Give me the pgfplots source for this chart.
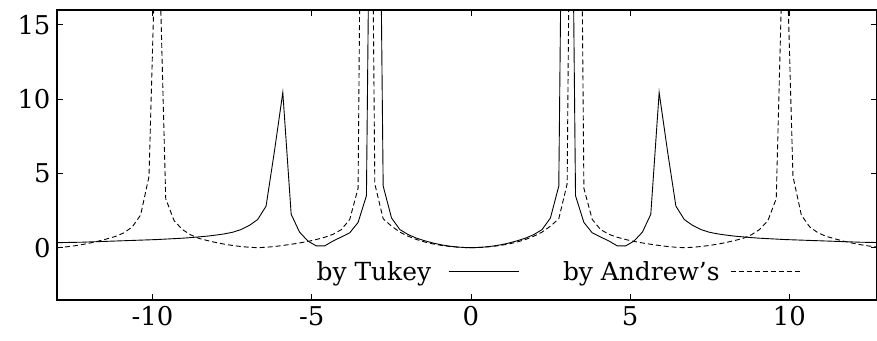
\documentclass[border=0pt]{standalone}
\usepackage{fontspec}
\setmainfont{DejaVu Serif}
\usepackage{pgfplots}
\pgfplotsset{compat=1.18}
\begin{document}
\begin{tikzpicture}
\begin{axis}[
  scale only axis, width=820bp, height=290bp,
  xmin=-13, xmax=12.75, ymin=-3.52, ymax=16,
  xtick={-10,-5,0,5,10}, ytick={0,5,10,15},
  tick align=inside, major tick length=6bp,
  every tick/.style={black, line width=0.8bp},
  axis line style={line width=1.3bp},
  font=\fontsize{25}{30}\selectfont,
  tick label style={font=\fontsize{26}{31}\selectfont},
  /pgf/number format/assume math mode=true,
  xticklabel style={yshift=-3bp},
  yticklabel style={xshift=-3bp},
  legend plot pos=right,
  legend columns=2,
  legend image code/.code={\draw[#1] (0bp,0bp) -- (70bp,0bp);},
  legend style={draw=none, fill=none, at={(rel axis cs:0.314,0.097)}, anchor=west, inner sep=0pt,
    /tikz/column 1/.style={column sep=15bp},
    /tikz/column 2/.style={column sep=42bp},
    /tikz/column 3/.style={column sep=9bp}},
]
\addplot[black, line width=0.9bp] coordinates {
(-13.0000,0.34) (-12.7374,0.35) (-12.4747,0.36) (-12.2121,0.37) (-11.9495,0.39) (-11.6869,0.41) (-11.4242,0.43) (-11.1616,0.45) (-10.8990,0.47) (-10.6364,0.49) (-10.3737,0.51) (-10.1111,0.53) (-9.8485,0.55) (-9.5859,0.58) (-9.3232,0.61) (-9.0606,0.64) (-8.7980,0.68) (-8.5354,0.73) (-8.2727,0.78) (-8.0101,0.85) (-7.7475,0.93) (-7.4848,1.04) (-7.2222,1.22) (-6.9596,1.5) (-6.6970,1.9) (-6.4343,2.8) (-6.1717,6.5) (-5.9091,10.45) (-5.6465,2.25) (-5.3838,1.05) (-5.1212,0.45) (-4.8586,0.12) (-4.5960,0.12) (-4.3333,0.45) (-4.0707,0.72) (-3.8081,1.0) (-3.5455,1.7) (-3.2828,3.5) (-3.0202,60) (-2.7576,4.15) (-2.4949,2.0) (-2.2323,1.22) (-1.9697,0.88) (-1.7071,0.64) (-1.4444,0.46) (-1.1818,0.31) (-0.9192,0.19) (-0.6566,0.10) (-0.3939,0.04) (-0.1313,0.005)
(0.1313,0.005) (0.3939,0.04) (0.6566,0.10) (0.9192,0.19) (1.1818,0.31) (1.4444,0.46) (1.7071,0.64) (1.9697,0.88) (2.2323,1.22) (2.4949,2.0) (2.7576,4.15) (3.0202,60) (3.2828,3.5) (3.5455,1.7) (3.8081,1.0) (4.0707,0.72) (4.3333,0.45) (4.5960,0.12) (4.8586,0.12) (5.1212,0.45) (5.3838,1.05) (5.6465,2.25) (5.9091,10.45) (6.1717,6.5) (6.4343,2.8) (6.6970,1.9) (6.9596,1.5) (7.2222,1.22) (7.4848,1.04) (7.7475,0.93) (8.0101,0.85) (8.2727,0.78) (8.5354,0.73) (8.7980,0.68) (9.0606,0.64) (9.3232,0.61) (9.5859,0.58) (9.8485,0.55) (10.1111,0.53) (10.3737,0.51) (10.6364,0.49) (10.8990,0.47) (11.1616,0.45) (11.4242,0.43) (11.6869,0.41) (11.9495,0.39) (12.2121,0.37) (12.4747,0.36) (12.7374,0.35) (13.0000,0.34)
};
\addlegendentry{by Tukey}
\addplot[black, line width=0.9bp, dash pattern=on 5bp off 3bp] coordinates {
(-13.0000,0.0) (-12.7374,0.05) (-12.4747,0.12) (-12.2121,0.21) (-11.9495,0.32) (-11.6869,0.45) (-11.4242,0.6) (-11.1616,0.76) (-10.8990,1.0) (-10.6364,1.4) (-10.3737,2.2) (-10.1111,4.8) (-9.8485,25) (-9.5859,3.3) (-9.3232,1.82) (-9.0606,1.22) (-8.7980,0.86) (-8.5354,0.62) (-8.2727,0.48) (-8.0101,0.35) (-7.7475,0.24) (-7.4848,0.15) (-7.2222,0.08) (-6.9596,0.03) (-6.6970,0.0) (-6.4343,0.03) (-6.1717,0.08) (-5.9091,0.15) (-5.6465,0.23) (-5.3838,0.32) (-5.1212,0.42) (-4.8586,0.55) (-4.5960,0.7) (-4.3333,0.9) (-4.0707,1.22) (-3.8081,1.9) (-3.5455,4.0) (-3.2828,70) (-3.0202,4.3) (-2.7576,1.95) (-2.4949,1.45) (-2.2323,1.05) (-1.9697,0.77) (-1.7071,0.55) (-1.4444,0.38) (-1.1818,0.25) (-0.9192,0.15) (-0.6566,0.08) (-0.3939,0.03) (-0.1313,0.005)
(0.1313,0.005) (0.3939,0.03) (0.6566,0.08) (0.9192,0.15) (1.1818,0.25) (1.4444,0.38) (1.7071,0.55) (1.9697,0.77) (2.2323,1.05) (2.4949,1.45) (2.7576,1.95) (3.0202,4.3) (3.2828,70) (3.5455,4.0) (3.8081,1.9) (4.0707,1.22) (4.3333,0.9) (4.5960,0.7) (4.8586,0.55) (5.1212,0.42) (5.3838,0.32) (5.6465,0.23) (5.9091,0.15) (6.1717,0.08) (6.4343,0.03) (6.6970,0.0) (6.9596,0.03) (7.2222,0.08) (7.4848,0.15) (7.7475,0.24) (8.0101,0.35) (8.2727,0.48) (8.5354,0.62) (8.7980,0.86) (9.0606,1.22) (9.3232,1.82) (9.5859,3.3) (9.8485,25) (10.1111,4.8) (10.3737,2.2) (10.6364,1.4) (10.8990,1.0) (11.1616,0.76) (11.4242,0.6) (11.6869,0.45) (11.9495,0.32) (12.2121,0.21) (12.4747,0.12) (12.7374,0.05) (13.0000,0.0)
};
\addlegendentry{by Andrew's}
\coordinate (sw) at (rel axis cs:0,0);
\coordinate (ne) at (rel axis cs:1,1);
\end{axis}
\pgfresetboundingbox
\path[use as bounding box] ([xshift=-57bp,yshift=-41bp]sw) rectangle ([yshift=10bp]ne);
\end{tikzpicture}
\end{document}
